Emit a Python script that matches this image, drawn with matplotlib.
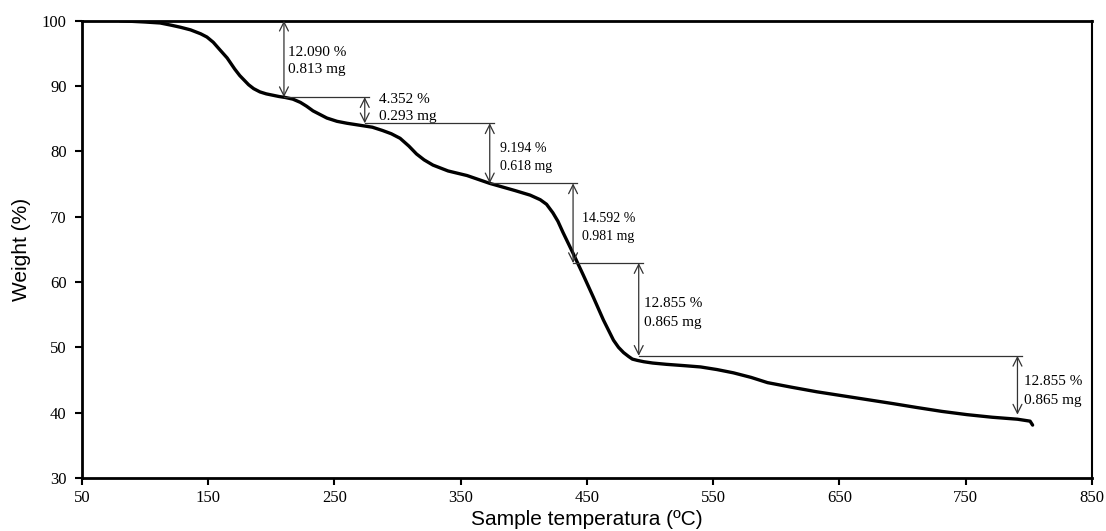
import matplotlib
matplotlib.use("Agg")
import matplotlib.pyplot as plt

# TGA curve
temperature = [80, 90, 100, 112, 121, 128, 136, 144, 149, 154, 159, 165, 171, 175, 179, 182,
               186, 191, 196, 201, 206, 211, 217, 223, 228, 233, 239, 244, 252, 260, 270,
               280, 288, 295, 302, 309, 315, 321, 328, 340, 355, 373, 393, 405, 413, 418,
               423, 427, 431, 435, 439, 447, 455, 463, 471, 475, 479, 483, 486, 490, 495,
               502, 513, 527, 540, 553, 566, 580, 593, 612, 632, 652, 672, 692, 711, 731,
               751, 771, 791, 801, 803]
weight = [100.0, 99.9, 99.8, 99.65, 99.3, 99.0, 98.6, 98.0, 97.5, 96.7, 95.6, 94.3, 92.6, 91.6, 90.8, 90.2,
          89.6, 89.1, 88.8, 88.6, 88.4, 88.25, 88.0, 87.5, 86.9, 86.2, 85.6, 85.1, 84.6, 84.3, 84.0,
          83.7, 83.2, 82.7, 82.0, 80.8, 79.6, 78.7, 77.9, 77.0, 76.3, 75.1, 74.0, 73.3, 72.6, 71.9,
          70.6, 69.3, 67.6, 66.0, 64.4, 61.1, 57.7, 54.2, 51.1, 50.0, 49.2, 48.6, 48.2, 48.0, 47.8,
          47.6, 47.4, 47.2, 47.0, 46.6, 46.1, 45.4, 44.6, 43.9, 43.2, 42.6, 42.0, 41.4, 40.8, 40.2,
          39.7, 39.3, 39.0, 38.7, 38.1]

# mass-loss steps: arrow positions and levels
step_x = [210, 274, 373, 439, 491, 791]
step_levels = [100.0, 88.3, 84.3, 75.1, 62.9, 48.7, 39.7]
step_pct = ["12.090 %", "4.352 %", "9.194 %", "14.592 %", "12.855 %", "12.855 %"]
step_mg = ["0.813 mg", "0.293 mg", "0.618 mg", "0.981 mg", "0.865 mg", "0.865 mg"]

# label layout (size, gap from arrow, vertical centre, line spacing)
label_sizes = [11, 11, 10, 10, 11, 11]
label_gap = [3.5, 11, 8, 7, 4, 5]
label_y = [93.8, 86.6, 79.1, 68.4, 55.2, 43.3]
label_spacing = [1.43, 1.43, 1.52, 1.52, 1.6, 1.6]

serif = ["Liberation Serif", "DejaVu Serif"]
sans = ["Liberation Sans", "DejaVu Sans"]

fig = plt.figure(figsize=(11.06, 5.31), dpi=100)
ax = fig.add_axes([0.0741, 0.0998, 0.9132, 0.8612])

ax.plot(temperature, weight, color="black", lw=2.4, solid_capstyle="round",
        solid_joinstyle="round")

for i, x in enumerate(step_x):
    top = step_levels[i]
    bottom = step_levels[i + 1]
    ax.annotate("", xy=(x, bottom), xytext=(x, top),
                arrowprops=dict(arrowstyle="<->", color="#333333", lw=0.9,
                                mutation_scale=16, shrinkA=0, shrinkB=0))
    # horizontal guide at the lower level, up to the next arrow
    if i + 1 < len(step_x):
        ax.plot([x, step_x[i + 1] + 3.5], [bottom, bottom], color="#333333", lw=0.9)
    ax.text(x + label_gap[i], label_y[i], step_pct[i] + "\n" + step_mg[i], family=serif,
            fontsize=label_sizes[i], va="center", ha="left",
            linespacing=label_spacing[i])

ax.set_xlim(50, 850)
ax.set_ylim(30, 100)
ax.set_xticks(range(50, 851, 100))
ax.set_yticks(range(30, 101, 10))

for s in ax.spines.values():
    s.set_linewidth(2.0)
ax.spines["right"].set_linewidth(1.5)

ax.tick_params(axis="both", direction="out", length=5, width=1.5, labelsize=12)
ax.tick_params(axis="y", pad=6)
for lab in ax.get_xticklabels() + ax.get_yticklabels():
    lab.set_family(serif)

ax.set_xlabel("Sample temperatura (ºC)", family=sans, fontsize=15, labelpad=3)
ax.set_ylabel("Weight (%)", family=sans, fontsize=15, labelpad=8)

fig.savefig("out.png", dpi=100)
